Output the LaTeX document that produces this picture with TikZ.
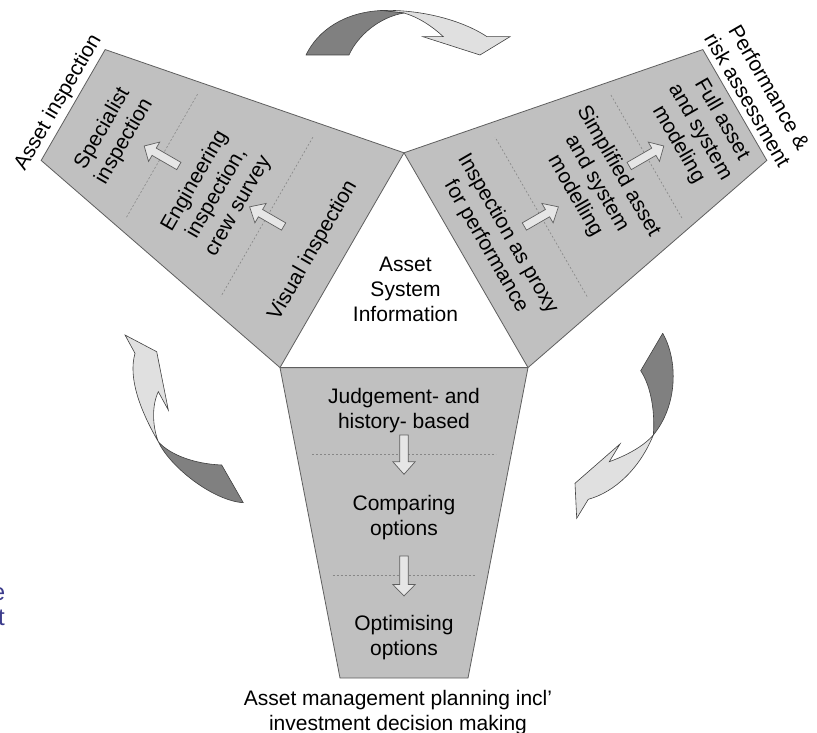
\documentclass[tikz,border=0pt]{standalone}
\usepackage{fontspec}
\setmainfont{Liberation Sans}
\definecolor{panelfill}{RGB}{192,192,192}
\definecolor{edgegray}{RGB}{95,95,95}
\definecolor{dashgray}{RGB}{135,135,135}
\definecolor{arrowlight}{RGB}{230,230,230}
\definecolor{curvedark}{RGB}{128,128,128}
\definecolor{curvelight}{RGB}{224,224,224}
\definecolor{bluetext}{RGB}{60,60,140}
\tikzset{
  panel/.style={fill=panelfill, draw=edgegray, line width=0.8pt, line join=miter},
  divider/.style={draw=dashgray, line width=0.6pt, dash pattern=on 2pt off 2pt},
  smallarrow/.style={fill=arrowlight, draw=edgegray, line width=0.7pt, line join=miter},
  curvedarkstyle/.style={fill=curvedark, draw=black!75, line width=0.6pt, line join=round},
  curvelightstyle/.style={fill=curvelight, draw=black!75, line width=0.6pt, line join=miter},
  lbl/.style={font=\fontsize{21}{25}\selectfont, align=center, inner sep=0pt, text=black},
  bluelbl/.style={font=\fontsize{24}{25}\selectfont, inner sep=0pt, text=bluetext},
}
\newcommand{\drawpanelbody}{%
  \draw[panel] (-124,71.6) -- (124,71.6) -- (64,382) -- (-64,382) -- cycle;
  \draw[divider] (-92,158.3) -- (92,158.3);
  \draw[divider] (-71.5,279.7) -- (71.5,279.7);
  \draw[smallarrow] (-4.2,139) -- (-4.2,165.7) -- (-11.2,165.7) -- (0,178.3) -- (11.2,165.7) -- (4.2,165.7) -- (4.2,139) -- cycle;
  \draw[smallarrow] (-4.2,260) -- (-4.2,288.5) -- (-11.2,288.5) -- (0,300) -- (11.2,288.5) -- (4.2,288.5) -- (4.2,260) -- cycle;
}
\begin{document}
\begin{tikzpicture}[x=1pt,y=-1pt]
\clip (0,0) rectangle (817,733);
\fill[white] (0,0) rectangle (817,733);

% bottom panel: asset management planning
\begin{scope}[shift={(404,296)}]
  \drawpanelbody
  \node[lbl] (judge) at (0,114.7) {Judgement- and\\history- based};
  \node[lbl] (compare) at (0,222) {Comparing\\options};
  \node[lbl] (optimise) at (0,342) {Optimising\\options};
  \node[lbl] (amp) at (-6,416.2) {Asset management planning incl'\\investment decision making};
\end{scope}

% left panel: asset inspection
\begin{scope}[shift={(404,296)}, rotate=-120]
  \drawpanelbody
  \node[lbl, rotate=60] (visual) at (5.9,101.7) {Visual inspection};
  \node[lbl, rotate=60] (engineering) at (5,213.4) {Engineering\\inspection,\\crew survey};
  \node[lbl, rotate=60] (specialist) at (6,332) {Specialist\\inspection};
  \node[lbl, rotate=60] (assetinsp) at (5.2,396) {Asset inspection};
\end{scope}

% right panel: performance and risk assessment
\begin{scope}[shift={(404,296)}, rotate=120]
  \drawpanelbody
  \node[lbl, rotate=-60] (proxy) at (2,108.2) {Inspection as proxy\\for performance};
  \node[lbl, rotate=-60] (simplified) at (1,223) {Simplified asset\\and system\\modelling};
  \node[lbl, rotate=-60] (full) at (-6,338.3) {Full asset\\and system\\modeling};
  \node[lbl, rotate=-60] (perfrisk) at (-1.8,408.5) {Performance \&\\risk assessment};
\end{scope}

% centre
\node[lbl] (asi) at (405.5,289) {Asset\\System\\Information};

% top curved arrow
\draw[curvelightstyle] (380,10.5) .. controls (420,9) and (462,20) .. (487,36.7) -- (510,36.7) -- (480,55) -- (423,36.7) -- (443.3,36.7) .. controls (432,26) and (418,17) .. (404,13) -- cycle;
\draw[curvedarkstyle] (306,55) .. controls (318,30) and (345,12) .. (382,10.5) -- (404,13) .. controls (380,17) and (358,35) .. (349,55) -- cycle;

% left curved arrow
\draw[curvelightstyle] (158.3,441.7) .. controls (140,410) and (128,378) .. (135,353.3) -- (125,335) -- (156.7,351.7) -- (168.3,410) -- (158.3,391.7) .. controls (152,405) and (152,425) .. (158.3,441.7) -- cycle;
\draw[curvedarkstyle] (158.3,441.7) .. controls (170,455) and (195,464) .. (221.7,465) -- (243.3,502.7) .. controls (213,500.7) and (170,467) .. (158.3,441.7) -- cycle;

% right curved arrow
\draw[curvedarkstyle] (662.7,333.3) .. controls (678,360) and (678,405) .. (653.3,435) .. controls (655,415) and (652,388) .. (640.7,370.7) -- cycle;
\draw[curvelightstyle] (653.3,435) .. controls (640,468) and (615,492) .. (588.3,499.3) -- (576.7,518.3) -- (575,483.3) -- (620,444) -- (609.3,461.7) .. controls (625,456) and (643,447) .. (653.3,435) -- cycle;

% clipped blue text at the left edge
\node[bluelbl, anchor=base east] (blueE) at (5.5,600) {e};
\node[bluelbl, anchor=base east] (blueT) at (5,625) {t};
\end{tikzpicture}
\end{document}
